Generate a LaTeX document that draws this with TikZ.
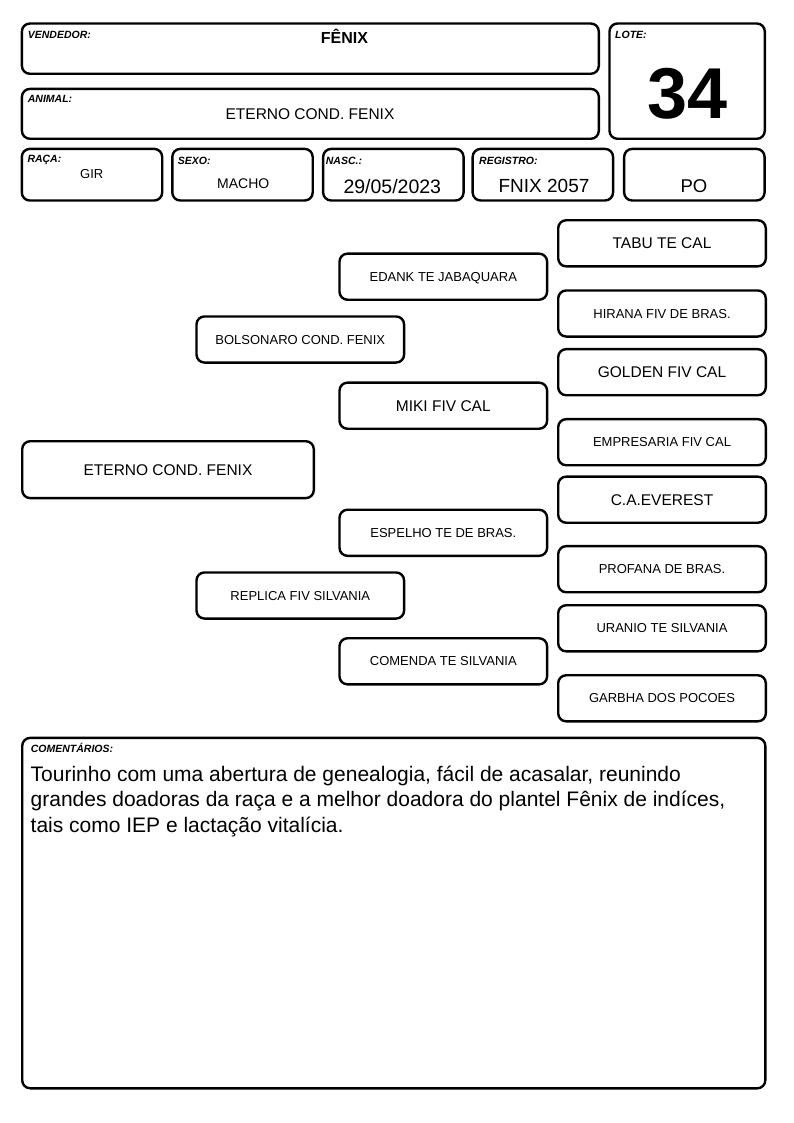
\documentclass[tikz,border=0pt]{standalone}
\usepackage{fontspec}
\setmainfont{Liberation Sans}
\begin{document}
\begin{tikzpicture}[x=1pt,y=-1pt,
  frame/.style={draw=black, line width=2.4pt, rounded corners=8pt, inner sep=0pt, fill=white},
  lbl/.style={anchor=base west, inner sep=0pt, font=\fontsize{10.5}{12}\selectfont\bfseries\itshape},
  val/.style={anchor=base, inner sep=0pt},
  pbig/.style={frame, font=\fontsize{15.5}{18}\selectfont, text height=11.1pt, text depth=0pt, minimum width=207.6pt, minimum height=46.1pt},
  psmall/.style={pbig, font=\fontsize{13}{15}\selectfont, text height=9.3pt},
  cline/.style={anchor=base west, inner sep=0pt, font=\fontsize{21}{25}\selectfont}
]
\useasboundingbox[fill=white] (0,0) rectangle (794,1123);

% header frames
\node[frame, minimum width=576.9pt, minimum height=50.3pt] (vend) at (310.35,48.65) {};
\node[frame, minimum width=576.9pt, minimum height=49.9pt] (anim) at (310.35,113.85) {};
\node[frame, minimum width=155.3pt, minimum height=115.3pt] (lote) at (687.15,81.15) {};
\node[frame, minimum width=140.4pt, minimum height=51.6pt] (raca) at (92,174.7) {};
\node[frame, minimum width=140.4pt, minimum height=51.6pt] (sexo) at (242.5,174.7) {};
\node[frame, minimum width=140.4pt, minimum height=51.6pt] (nasc) at (393.35,174.7) {};
\node[frame, minimum width=140.4pt, minimum height=51.6pt] (regi) at (542.85,174.7) {};
\node[frame, minimum width=140.4pt, minimum height=51.6pt] (po) at (694.35,174.7) {};

% header labels
\node[lbl] (lvend) at (27.7,39) {VENDEDOR:};
\node[lbl] (lanim) at (27.7,102.3) {ANIMAL:};
\node[lbl] (llote) at (615,39) {LOTE:};
\node[lbl] (lraca) at (27.3,162.7) {RAÇA:};
\node[lbl] (lsexo) at (177.7,165) {SEXO:};
\node[lbl] (lnasc) at (325.7,165) {NASC.:};
\node[lbl] (lregi) at (479,165) {REGISTRO:};

% header values
\node[val, font=\fontsize{16}{18}\selectfont\bfseries] (vvend) at (344.5,43.3) {FÊNIX};
\node[val, font=\fontsize{15.5}{18}\selectfont] (vanim) at (310,119.3) {ETERNO COND. FENIX};
\node[val, font=\fontsize{72}{80}\selectfont\bfseries] (vlote) at (687.5,118.3) {34};
\node[val, font=\fontsize{13}{15}\selectfont] (vraca) at (91.7,178.3) {GIR};
\node[val, font=\fontsize{14}{16}\selectfont] (vsexo) at (243.3,189) {MACHO};
\node[val, font=\fontsize{19.5}{22}\selectfont] (vnasc) at (392.3,193.3) {29/05/2023};
\node[val, font=\fontsize{19}{22}\selectfont] (vregi) at (544,192.3) {FNIX 2057};
\node[val, font=\fontsize{18.5}{22}\selectfont] (vpo) at (694,192.3) {PO};

% pedigree
\node[pbig, minimum width=291.6pt, minimum height=56.9pt] (animal) at (168,469.65) {ETERNO COND. FENIX};
\node[psmall] (pai) at (300.3,339.5) {BOLSONARO COND. FENIX};
\node[psmall] (mae) at (300.3,595.5) {REPLICA FIV SILVANIA};
\node[psmall] (avp) at (443.3,276.7) {EDANK TE JABAQUARA};
\node[pbig] (avmp) at (443.3,405.7) {MIKI FIV CAL};
\node[psmall] (avpm) at (443.3,532.8) {ESPELHO TE DE BRAS.};
\node[psmall] (avmm) at (443.3,661.3) {COMENDA TE SILVANIA};
\node[pbig] (b1) at (662,243.3) {TABU TE CAL};
\node[psmall] (b2) at (662,313.5) {HIRANA FIV DE BRAS.};
\node[pbig] (b3) at (662,372.2) {GOLDEN FIV CAL};
\node[psmall] (b4) at (662,442.2) {EMPRESARIA FIV CAL};
\node[pbig] (b5) at (662,499.7) {C.A.EVEREST};
\node[psmall] (b6) at (662,569.2) {PROFANA DE BRAS.};
\node[psmall] (b7) at (662,628.3) {URANIO TE SILVANIA};
\node[psmall] (b8) at (662,698.3) {GARBHA DOS POCOES};

% comments
\node[frame, minimum width=743.1pt, minimum height=350.4pt] (coment) at (393.75,913.1) {};
\node[lbl] (lcoment) at (30.7,752.3) {COMENTÁRIOS:};
\node[cline] (c1) at (30.5,781) {Tourinho com uma abertura de genealogia, fácil de acasalar, reunindo};
\node[cline] (c2) at (30.5,806.5) {grandes doadoras da raça e a melhor doadora do plantel Fênix de indíces,};
\node[cline] (c3) at (30.5,832) {tais como IEP e lactação vitalícia.};
\end{tikzpicture}
\end{document}
